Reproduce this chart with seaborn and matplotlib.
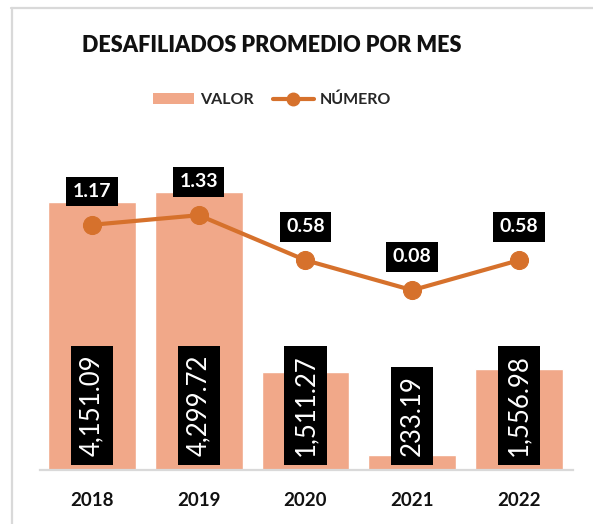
import matplotlib
matplotlib.use("Agg")
import matplotlib.pyplot as plt
import seaborn as sns
import numpy as np
import pandas as pd
from matplotlib.lines import Line2D
from matplotlib.patches import Patch

years = ["2018", "2019", "2020", "2021", "2022"]
valor = [4151.09, 4299.72, 1511.27, 233.19, 1556.98]
numero = [1.17, 1.33, 0.58, 0.08, 0.58]
title = "DESAFILIADOS PROMEDIO POR MES"

BAR_C = "#F1A889"
LINE_C = "#D6712C"

sns.set_theme(style="white")
plt.rcParams["font.family"] = ["Lato", "DejaVu Sans"]

W, H = 593, 524
fig = plt.figure(figsize=(W / 100, H / 100), dpi=100)
ax = fig.add_axes([40 / W, 54 / H, 533 / W, 323 / H])

df = pd.DataFrame({"year": years, "valor": valor, "numero": numero})
sns.barplot(data=df, x="year", y="valor", color=BAR_C, saturation=1, width=0.824, ax=ax)
ax.set_xlim(-0.487, 4.506)
ax.set_ylim(0, 5000)
for s in ["top", "right", "left"]:
    ax.spines[s].set_visible(False)
ax.spines["bottom"].set_color("#D9D9D9")
ax.spines["bottom"].set_linewidth(1.6)
ax.set_yticks([])
ax.set_xlabel("")
ax.set_ylabel("")
ax.tick_params(axis="x", length=0, pad=16)
for t in ax.get_xticklabels():
    t.set_fontweight("bold")
    t.set_fontsize(13.5)
    t.set_color("#111111")

for i, v in enumerate(valor):
    ax.annotate(f"{v:,.2f}", xy=(i, 0), xytext=(0, 10), textcoords="offset points",
                rotation=90, ha="center", va="bottom", color="white", fontsize=18.5,
                bbox=dict(boxstyle="square,pad=0.34", facecolor="black", edgecolor="none"))

ax2 = ax.twinx()
sns.lineplot(x=np.arange(len(years)), y=numero, ax=ax2, color=LINE_C, linewidth=3,
             marker="o", markersize=13, markeredgecolor=LINE_C)
ax2.set_ylim(-2.917, 2.467)
ax2.set_xlim(-0.487, 4.506)
ax2.set_yticks([])
for s in ["top", "right", "left", "bottom"]:
    ax2.spines[s].set_visible(False)

for i, v in enumerate(numero):
    ax2.annotate(f"{v:.2f}", xy=(i, v), xytext=(0, 24), textcoords="offset points",
                 ha="center", va="center", color="white", fontsize=14, fontweight="bold",
                 bbox=dict(boxstyle="square,pad=0.33", facecolor="black", edgecolor="none"))

fig.text(0.5 * (83 + 460) / W, 1 - 45 / H, title, ha="center", va="center",
         fontsize=15.6, fontweight="heavy", color="#111111")

handles = [Patch(facecolor=BAR_C, edgecolor="none"),
           Line2D([0], [0], color=LINE_C, lw=3, marker="o", markersize=9)]
fig.legend(handles, ["VALOR", "NÚMERO"], loc="center", bbox_to_anchor=(272 / W, 1 - 100 / H),
           ncol=2, frameon=False, prop=dict(weight="bold", size=11.5), handlelength=2.6,
           handletextpad=0.35, columnspacing=1.2)

fig.add_artist(Line2D([11 / W, 1], [1 - 8 / H, 1 - 8 / H], color="#D9D9D9", lw=1.6,
                      transform=fig.transFigure))
fig.add_artist(Line2D([12 / W, 12 / W], [0, 1 - 8 / H], color="#D9D9D9", lw=1.6,
                      transform=fig.transFigure))

fig.savefig("out.png", dpi=100, facecolor="white")
